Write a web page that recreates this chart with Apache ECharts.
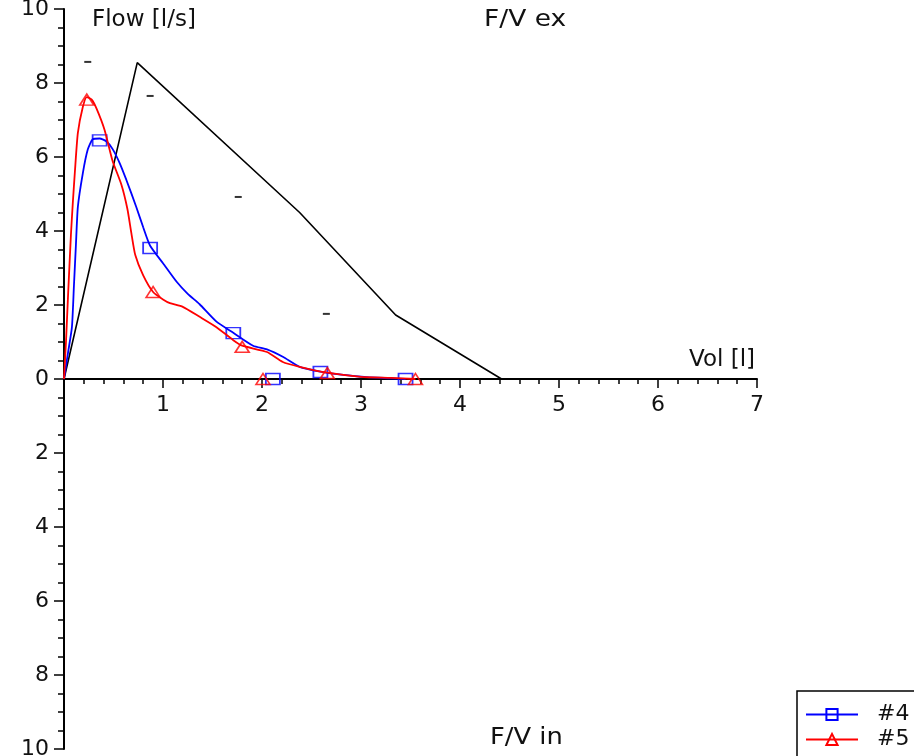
<!DOCTYPE html>
<html>
<head>
<meta charset="utf-8">
<title>F/V</title>
<script src="https://cdn.jsdelivr.net/npm/echarts@6/dist/echarts.min.js"></script>
<style>
	html, body { margin: 0; padding: 0; background: #fff; }
	#fvChart { width: 914px; height: 756px; }
</style>
</head>
<body>
<div id="fvChart"></div>
<script>
// 预测曲线 (black)
var predVol = [0, 0.74, 2.38, 3.35, 4.42];
var predFlow = [0, 8.55, 4.5, 1.73, 0];

// #4 blue
var vol4 = [0, 0.04, 0.08, 0.1, 0.12, 0.14, 0.19, 0.24, 0.29, 0.36, 0.43, 0.49, 0.56, 0.63, 0.73, 0.8, 0.87, 1.0, 1.14, 1.25, 1.37, 1.54, 1.71, 1.91, 2.05, 2.21, 2.38, 2.59, 2.8, 3.06, 3.3, 3.45];
var flow4 = [0, 0.7, 1.4, 2.5, 3.6, 4.65, 5.56, 6.2, 6.48, 6.5, 6.42, 6.22, 5.85, 5.38, 4.65, 4.1, 3.6, 3.13, 2.62, 2.3, 2.02, 1.55, 1.25, 0.9, 0.8, 0.6, 0.33, 0.2, 0.12, 0.05, 0.02, 0];
var mark4Vol = [0.36, 0.87, 1.71, 2.59, 2.11, 3.45];
var mark4Flow = [6.45, 3.54, 1.24, 0.19, 0, 0];

// #5 red
var vol5 = [0, 0.02, 0.04, 0.07, 0.09, 0.11, 0.14, 0.19, 0.23, 0.28, 0.33, 0.41, 0.49, 0.58, 0.64, 0.68, 0.72, 0.8, 0.9, 1.0, 1.07, 1.2, 1.37, 1.54, 1.71, 1.8, 2.05, 2.21, 2.38, 2.66, 3.0, 3.3, 3.55];
var flow5 = [0, 1.0, 2.2, 3.9, 4.8, 5.6, 6.65, 7.35, 7.62, 7.55, 7.3, 6.73, 5.9, 5.25, 4.6, 3.95, 3.35, 2.8, 2.35, 2.15, 2.05, 1.95, 1.68, 1.4, 1.05, 0.9, 0.73, 0.46, 0.33, 0.17, 0.06, 0.03, 0];
var mark5Vol = [0.23, 0.9, 1.8, 2.66, 2.01, 3.55];
var mark5Flow = [7.55, 2.35, 0.87, 0.16, 0, 0];

// 小短线标记
var dashVol = [0.24, 0.87, 1.76, 2.65];
var dashFlow = [8.57, 7.65, 4.92, 1.76];

var zip = function(xs, ys) {
	var out = [];
	for (var i = 0; i < xs.length; i++) {
		out.push([xs[i], ys[i]]);
	}
	return out;
};

var FONT = 'DejaVu Sans';
var GRID_H = 740; // 756 - top - bottom
var myChart = echarts.init(document.getElementById('fvChart'));

var option = {
	animation : false,
	backgroundColor : '#fff',
	grid : {
		left : 64,
		right : 157,
		top : 9,
		bottom : 7,
		containLabel : false,
		outerBoundsMode : 'none'
	},
	legend : {
		data : [ '#4', '#5' ],
		orient : 'horizontal',
		left : 797,
		top : 691,
		padding : [ 11, 14, 16, 8 ],
		itemWidth : 52,
		itemHeight : 14,
		itemGap : 0,
		borderColor : '#000',
		borderWidth : 1.5,
		borderRadius : 0,
		textStyle : {
			fontFamily : FONT,
			fontSize : 22,
			lineHeight : 25,
			color : '#111',
			padding : [ 0, 0, 0, 14 ]
		}
	},
	xAxis : {
		type : 'value',
		min : 0,
		max : 7,
		interval : 1,
		position : 'bottom',
		offset : -GRID_H / 2, // 轴放在 y=0 处
		splitLine : { show : false },
		axisLine : {
			onZero : false,
			lineStyle : { color : '#000', width : 2 }
		},
		axisTick : {
			length : 9,
			lineStyle : { color : '#000', width : 1.5 }
		},
		minorTick : {
			show : true,
			splitNumber : 5,
			length : 5,
			lineStyle : { color : '#000', width : 1.5 }
		},
		axisLabel : {
			margin : 15,
			fontFamily : FONT,
			fontSize : 22,
			color : '#111',
			formatter : function(v) {
				return v === 0 ? '' : String(v);
			}
		}
	},
	yAxis : {
		type : 'value',
		min : -10,
		max : 10,
		interval : 2,
		splitLine : { show : false },
		axisLine : {
			show : true,
			onZero : false,
			lineStyle : { color : '#000', width : 2 }
		},
		axisTick : {
			show : true,
			length : 10,
			lineStyle : { color : '#000', width : 1.5 }
		},
		minorTick : {
			show : true,
			splitNumber : 4,
			length : 6,
			lineStyle : { color : '#000', width : 1.5 }
		},
		axisLabel : {
			margin : 15,
			fontFamily : FONT,
			fontSize : 22,
			color : '#111',
			formatter : function(v) {
				return String(Math.abs(v));
			}
		}
	},
	graphic : [ {
		type : 'text',
		left : 92,
		top : 9,
		style : { text : 'Flow [l/s]', font : '23px "DejaVu Sans"', fill : '#111' }
	}, {
		type : 'text',
		left : 484,
		top : 9,
		scaleX : 1.15,
		style : { text : 'F/V ex', font : '23px "DejaVu Sans"', fill : '#111' }
	}, {
		type : 'text',
		left : 689,
		top : 349,
		style : { text : 'Vol [l]', font : '23px "DejaVu Sans"', fill : '#111' }
	}, {
		type : 'text',
		left : 490,
		top : 727,
		scaleX : 1.12,
		style : { text : 'F/V in', font : '23px "DejaVu Sans"', fill : '#111' }
	} ],
	series : [ {
		name : 'pred',
		type : 'line',
		data : zip(predVol, predFlow),
		symbol : 'none',
		lineStyle : { color : '#000', width : 1.6 },
		z : 2
	}, {
		name : 'dash',
		type : 'scatter',
		data : zip(dashVol, dashFlow),
		symbol : 'rect',
		symbolSize : [ 7, 2 ],
		itemStyle : { color : '#000' }
	}, {
		name : '#4',
		type : 'line',
		data : zip(vol4, flow4),
		smooth : 0.2,
		symbol : 'rect',
		symbolSize : [ 14, 11 ],
		showSymbol : false,
		itemStyle : { color : 'rgba(0,0,0,0)', borderColor : '#0000ff', borderWidth : 1.5 },
		lineStyle : { color : '#0000ff', width : 1.8 },
		z : 3
	}, {
		name : '#5',
		type : 'line',
		data : zip(vol5, flow5),
		smooth : 0.2,
		symbol : 'triangle',
		symbolSize : [ 14, 11 ],
		showSymbol : false,
		itemStyle : { color : 'rgba(0,0,0,0)', borderColor : '#ff0000', borderWidth : 1.5 },
		lineStyle : { color : '#ff0000', width : 1.8 },
		z : 4
	}, {
		name : '#4',
		type : 'scatter',
		data : zip(mark4Vol, mark4Flow),
		symbol : 'rect',
		symbolSize : [ 14, 11 ],
		itemStyle : { color : 'rgba(0,0,0,0)', borderColor : '#0000ff', borderWidth : 1.6 },
		z : 3
	}, {
		name : '#5',
		type : 'scatter',
		data : zip(mark5Vol, mark5Flow),
		symbol : 'triangle',
		symbolSize : [ 14, 11 ],
		itemStyle : { color : 'rgba(0,0,0,0)', borderColor : '#ff0000', borderWidth : 1.6 },
		z : 4
	} ]
};
myChart.setOption(option);
</script>
</body>
</html>
